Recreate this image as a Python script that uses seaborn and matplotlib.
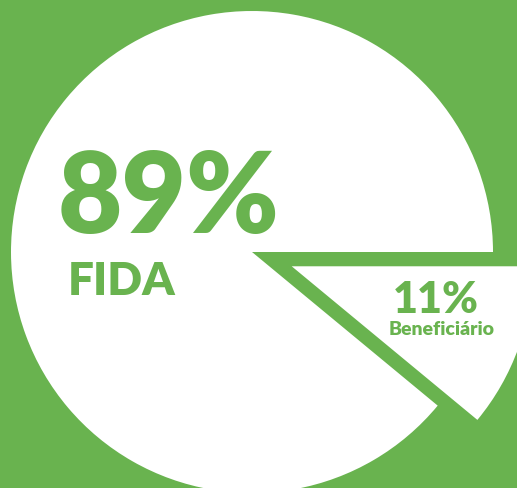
import matplotlib
matplotlib.use("Agg")
import matplotlib.pyplot as plt
import seaborn as sns

labels = ["FIDA", "Beneficiário"]
shares = [89, 11]
explode = [0, 0.175]

green = "#69b34f"
sns.set_style("white")
plt.rcParams["font.family"] = ["Lato", "DejaVu Sans"]

fig = plt.figure(figsize=(5.17, 4.88), dpi=100, facecolor=green)
ax = fig.add_axes([0, 0, 1, 1])
ax.set_facecolor(green)

ax.pie(shares, explode=explode, startangle=0, counterclock=True,
       colors=["white", "white"], radius=1.0,
       wedgeprops=dict(linewidth=0))

r_px = 241.0
cx, cy = 252.0, 252.0
W, H = 517.0, 488.0
ax.set_xlim(-cx / r_px, (W - cx) / r_px)
ax.set_ylim(-(H - cy) / r_px, cy / r_px)
ax.set_aspect("equal", adjustable="datalim")
ax.axis("off")

tf = ax.transAxes
ax.text(58 / W, 1 - 233 / H, f"{shares[0]}%", transform=tf, color=green,
        fontsize=80, fontweight="heavy", ha="left", va="baseline")
ax.text(68 / W, 1 - 295 / H, labels[0], transform=tf, color=green,
        fontsize=33, fontweight="heavy", ha="left", va="baseline")
ax.text(436 / W, 1 - 313 / H, f"{shares[1]}%", transform=tf, color=green,
        fontsize=31, fontweight="heavy", ha="center", va="baseline")
ax.text(442 / W, 1 - 335 / H, labels[1], transform=tf, color=green,
        fontsize=14, fontweight="heavy", ha="center", va="baseline")

fig.savefig("out.png", dpi=100, facecolor=green)
